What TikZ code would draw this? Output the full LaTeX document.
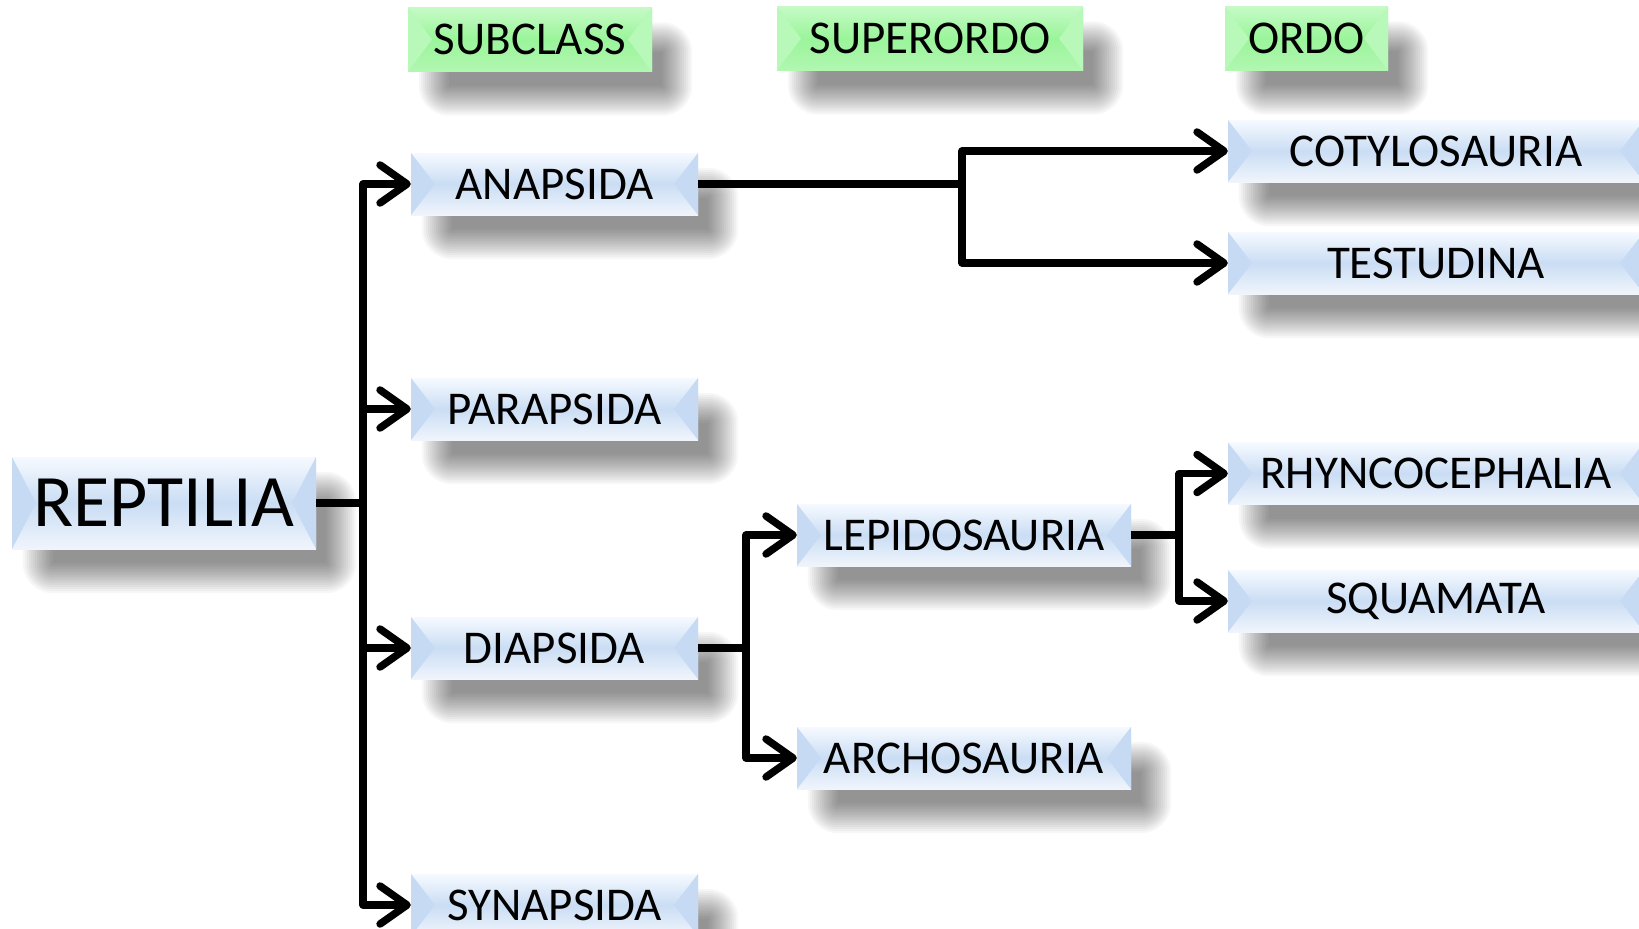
\documentclass[tikz,border=0pt]{standalone}
\usepackage{fontspec}
\setmainfont{Carlito}
\usetikzlibrary{arrows.meta,backgrounds}

\definecolor{bluetop}{HTML}{F6FAFF}
\definecolor{bluemid}{HTML}{CADDF4}
\definecolor{bluebot}{HTML}{F0F5FC}
\definecolor{bluebevel}{HTML}{C6DAF4}
\definecolor{greentop}{HTML}{C6FAC6}
\definecolor{greenmid}{HTML}{9AF59A}
\definecolor{greenbot}{HTML}{B2F6B2}
\definecolor{greenbevel}{HTML}{B8F8B8}

\tikzset{
  box/.style={rectangle, inner sep=0pt, text=black,
    font=\fontsize{47}{50}\selectfont},
  bevel/.style={path picture={
    \fill[#1] (path picture bounding box.north west)
      -- ([xshift=24pt]path picture bounding box.west)
      -- (path picture bounding box.south west) -- cycle;
    \fill[#1] (path picture bounding box.north east)
      -- ([xshift=-24pt]path picture bounding box.east)
      -- (path picture bounding box.south east) -- cycle;
  }},
  taxon/.style={box, top color=bluetop, bottom color=bluebot,
    middle color=bluemid, bevel=bluebevel, minimum height=62pt},
  rank/.style={box, top color=greentop, bottom color=greenbot,
    middle color=greenmid, bevel=greenbevel, minimum height=64pt},
  conn/.style={draw=black, line width=7.5pt, line join=round,
    -{Straight Barb[round, length=27pt, width=38pt]}},
  shadowlayer/.style={fill=black, opacity=0.03}
}

\begin{document}
\begin{tikzpicture}[x=1pt, y=-1pt]
  \useasboundingbox (0,0) rectangle (1639,929);

  % rank headers
  \node[rank, minimum width=244pt] (sub) at (530,39.5) {SUBCLASS};
  \node[rank, minimum width=306pt] (sup) at (930,38.5) {SUPERORDO};
  \node[rank, minimum width=163pt] (ord) at (1306.5,38.5) {ORDO};

  % class
  \node[taxon, minimum width=304pt, minimum height=92pt,
        font=\fontsize{74}{80}\selectfont] (rep) at (164,503) {REPTILIA};

  % subclasses
  \node[taxon, minimum width=287pt] (ana) at (554.5,184) {ANAPSIDA};
  \node[taxon, minimum width=287pt] (par) at (554.5,409) {PARAPSIDA};
  \node[taxon, minimum width=287pt] (dia) at (554.5,648) {DIAPSIDA};
  \node[taxon, minimum width=287pt] (syn) at (554.5,905) {SYNAPSIDA};

  % superorders
  \node[taxon, minimum width=334pt] (lep) at (964,535) {LEPIDOSAURIA};
  \node[taxon, minimum width=334pt] (arc) at (964,758) {ARCHOSAURIA};

  % orders
  \node[taxon, minimum width=416pt] (cot) at (1436,151) {COTYLOSAURIA};
  \node[taxon, minimum width=416pt] (tes) at (1436,263) {TESTUDINA};
  \node[taxon, minimum width=416pt] (rhy) at (1436,473.5) {RHYNCOCEPHALIA};
  \node[taxon, minimum width=416pt] (squ) at (1436,601) {SQUAMATA};

  % branches
  \foreach \child in {ana,par,dia,syn}
    \draw[conn] (rep.east) -- ++(47,0) |- (\child.west);
  \foreach \child in {lep,arc}
    \draw[conn] (dia.east) -- ++(48,0) |- (\child.west);
  \foreach \child in {cot,tes}
    \draw[conn] (ana.east) -- ++(264,0) |- (\child.west);
  \foreach \child in {rhy,squ}
    \draw[conn] (lep.east) -- ++(48,0) |- (\child.west);

  % white page and soft drop shadows behind every box
  \begin{scope}[on background layer]
    \fill[white] (0,0) rectangle (1639,929);
    \foreach \n in {sub,sup,ord,rep,ana,par,dia,syn,lep,arc,cot,tes,rhy,squ}
      \foreach \e in {-14,-12,...,16}
        \fill[shadowlayer, rounded corners={\e+14}]
          ([shift={(27-\e,31-\e)}]\n.north west)
          rectangle ([shift={(24+\e,28+\e)}]\n.south east);
  \end{scope}
\end{tikzpicture}
\end{document}
